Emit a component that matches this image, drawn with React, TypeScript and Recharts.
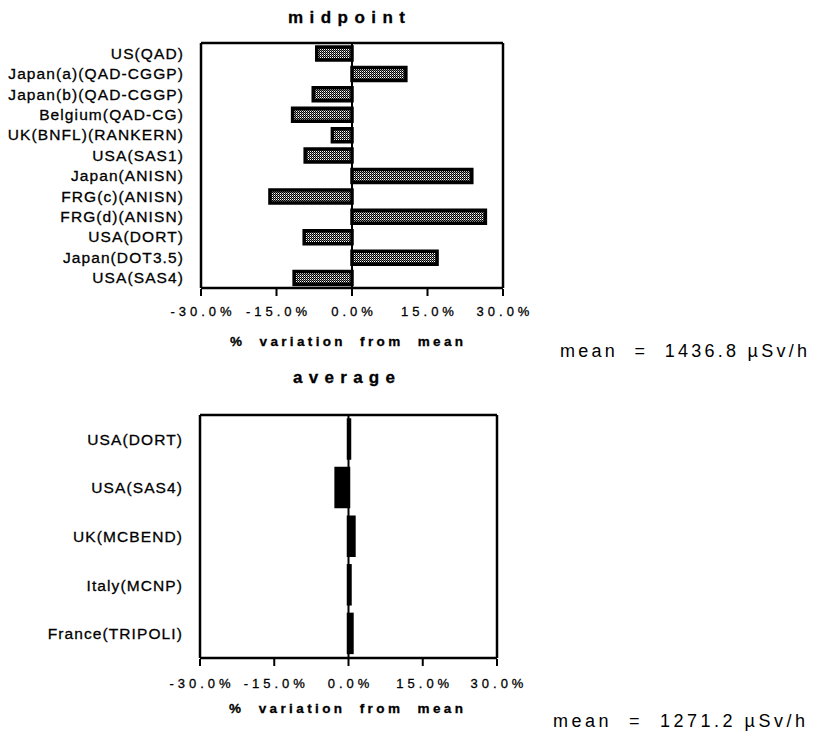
import { Bar, BarChart, ReferenceLine, XAxis, YAxis } from 'recharts';

const midpointLabels = [
  'US(QAD)',
  'Japan(a)(QAD-CGGP)',
  'Japan(b)(QAD-CGGP)',
  'Belgium(QAD-CG)',
  'UK(BNFL)(RANKERN)',
  'USA(SAS1)',
  'Japan(ANISN)',
  'FRG(c)(ANISN)',
  'FRG(d)(ANISN)',
  'USA(DORT)',
  'Japan(DOT3.5)',
  'USA(SAS4)',
];
const midpointValues = [-7.0, 10.7, -7.7, -11.8, -3.9, -9.3, 23.8, -16.3, 26.5, -9.5, 16.9, -11.5];

const averageLabels = ['USA(DORT)', 'USA(SAS4)', 'UK(MCBEND)', 'Italy(MCNP)', 'France(TRIPOLI)'];
const averageValues = [0.2, -2.5, 1.1, 0.3, 0.7];

const majorTicks = [-30, -15, 0, 15, 30];
const minorTicks = [-30, -25, -20, -15, -10, -5, 0, 5, 10, 15, 20, 25, 30];

const FONT = '"Liberation Sans", Arial, Helvetica, sans-serif';
const AXIS = { stroke: '#000', strokeWidth: 2.5 };
const TICK = { stroke: '#000', strokeWidth: 2 };

const fmt = (v: number) => `${v.toFixed(1)}%`;

// axis ids are numbers on purpose: lower ids sit closer to the plot
function Panel({
  labels,
  values,
  top,
  plotTop,
  plotRight,
  yWidth,
  barSize,
  fill,
  tickMargin,
}: {
  labels: string[];
  values: number[];
  top: number;
  plotTop: number;
  plotRight: number;
  yWidth: number;
  barSize: number;
  fill: string;
  tickMargin: number;
}) {
  const data = labels.map((name, i) => ({ name, value: values[i] }));
  const bounds = labels.map((_, i) => i).concat(labels.length);
  return (
    <div style={{ position: 'absolute', left: 0, top }}>
      <BarChart
        width={540}
        height={330}
        data={data}
        layout="vertical"
        margin={{ top: plotTop, right: plotRight, bottom: 12, left: 0 }}
      >
        <defs>
          <pattern id="dither" width="2" height="2" patternUnits="userSpaceOnUse">
            <rect width="2" height="2" fill="#fff" />
            <rect width="1" height="1" fill="#000" />
            <rect x="1" y="1" width="1" height="1" fill="#000" />
            <rect x="1" y="0" width="1" height="1" fill="#777" />
          </pattern>
        </defs>
        {/* minor ticks + axis line, on the plot edge */}
        <XAxis
          xAxisId={0}
          type="number"
          domain={[-30, 30]}
          ticks={minorTicks}
          tickSize={4}
          height={1}
          axisLine={AXIS}
          tick={false}
          tickLine={TICK}
        />
        <XAxis
          xAxisId={1}
          type="number"
          domain={[-30, 30]}
          ticks={majorTicks}
          tickFormatter={fmt}
          tickSize={7}
          tickMargin={tickMargin}
          height={29}
          axisLine={false}
          tickLine={TICK}
          tick={{
            fontSize: 13,
            fill: '#000',
            stroke: '#000',
            strokeWidth: 0.3,
            fontFamily: FONT,
            letterSpacing: 4,
            dx: 2,
          }}
          interval={0}
        />
        <XAxis
          xAxisId={2}
          orientation="top"
          type="number"
          domain={[-30, 30]}
          height={1}
          tick={false}
          tickLine={false}
          axisLine={AXIS}
        />
        {/* tick marks between categories, on the plot edge */}
        <YAxis
          yAxisId={0}
          type="number"
          domain={[0, labels.length]}
          ticks={bounds}
          width={1}
          tick={false}
          tickSize={5}
          axisLine={AXIS}
          tickLine={TICK}
        />
        <YAxis
          yAxisId={1}
          type="category"
          dataKey="name"
          width={yWidth}
          tickSize={0}
          tickMargin={16}
          interval={0}
          axisLine={false}
          tick={{
            fontSize: 15.5,
            fill: '#000',
            stroke: '#000',
            strokeWidth: 0.3,
            fontFamily: FONT,
            letterSpacing: 1.1,
          }}
        />
        <ReferenceLine xAxisId={1} yAxisId={1} x={30} stroke="#000" strokeWidth={2.5} />
        <ReferenceLine xAxisId={1} yAxisId={1} x={0} stroke="#000" strokeWidth={2} />
        <Bar
          xAxisId={1}
          yAxisId={1}
          dataKey="value"
          fill={fill}
          stroke="#000"
          strokeWidth={3.5}
          barSize={barSize}
          isAnimationActive={false}
        />
      </BarChart>
    </div>
  );
}

export default function App() {
  const textStyle = { fontFamily: FONT, fill: '#000' };
  const bold = { ...textStyle, stroke: '#000', strokeWidth: 0.3 };
  return (
    <div style={{ position: 'absolute', left: 0, top: 0, width: 814, height: 736, background: '#fff' }}>
      <Panel
        labels={midpointLabels}
        values={midpointValues}
        top={0}
        plotTop={42}
        plotRight={37}
        yWidth={200}
        barSize={13}
        fill="url(#dither)"
        tickMargin={11}
      />
      <Panel
        labels={averageLabels}
        values={averageValues}
        top={370}
        plotTop={44}
        plotRight={43}
        yWidth={199}
        barSize={38}
        fill="#000"
        tickMargin={13}
      />
      <svg
        width={814}
        height={736}
        style={{ position: 'absolute', left: 0, top: 0, pointerEvents: 'none' }}
      >
        <text x={288} y={23} fontSize={17} fontWeight="bold" textLength={117} lengthAdjust="spacing" style={bold}>
          midpoint
        </text>
        <text x={230} y={346} fontSize={13.5} fontWeight="bold" textLength={233} lengthAdjust="spacing" style={bold} xmlSpace="preserve">
          {'%  variation  from  mean'}
        </text>
        <text x={560} y={357} fontSize={18} textLength={247} lengthAdjust="spacing" style={textStyle} xmlSpace="preserve">
          {'mean  =  1436.8 µSv/h'}
        </text>
        <text x={293} y={383} fontSize={17} fontWeight="bold" textLength={102} lengthAdjust="spacing" style={bold}>
          average
        </text>
        <text x={229} y={713} fontSize={13.5} fontWeight="bold" textLength={234} lengthAdjust="spacing" style={bold} xmlSpace="preserve">
          {'%  variation  from  mean'}
        </text>
        <text x={553} y={727} fontSize={18} textLength={252} lengthAdjust="spacing" style={textStyle} xmlSpace="preserve">
          {'mean  =  1271.2 µSv/h'}
        </text>
      </svg>
    </div>
  );
}
